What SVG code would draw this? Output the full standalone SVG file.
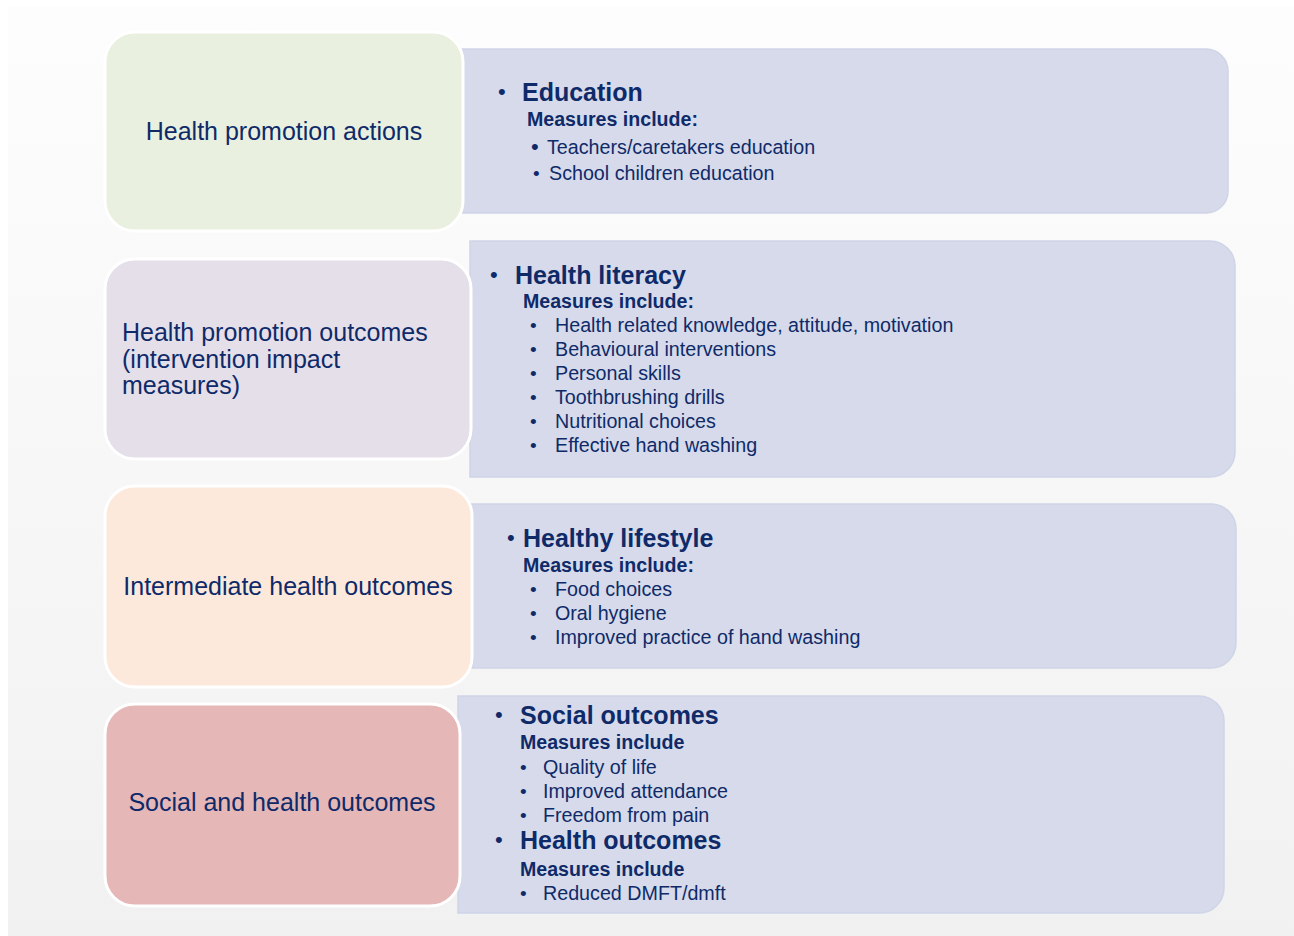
<svg xmlns="http://www.w3.org/2000/svg" width="1294" height="936" viewBox="0 0 1294 936">
<defs>
<linearGradient id="bg" x1="0" y1="0" x2="0" y2="1">
<stop offset="0" stop-color="#fdfdfd"/>
<stop offset="1" stop-color="#f1f1f1"/>
</linearGradient>
</defs>
<style>
text{font-family:"Liberation Sans",Arial,sans-serif;fill:#0f2a69}
.lbl{font-size:25px}
.mid{text-anchor:middle}
.hd{font-size:25px;font-weight:bold}
.mi{font-size:19.6px;font-weight:bold}
.it{font-size:19.7px}
.bu{font-size:19px}
.hb{font-size:22px}
.left{stroke:#ffffff;stroke-width:3}
.panel{fill:#d6daea;stroke:#cfd4e7;stroke-width:1.5}
</style>
<rect x="0" y="0" width="1294" height="936" fill="#ffffff"/>
<rect x="8" y="7" width="1286" height="929" fill="url(#bg)"/>
<g id="connectors"/>

<g id="panel1">
<path class="panel" d="M462,49 H1206 A22,22 0 0 1 1228,71 V191 A22,22 0 0 1 1206,213 H462 Z"/>
<text class="hb" x="498" y="99">•</text>
<text class="hd" x="522" y="101">Education</text>
<text class="mi" x="527" y="126">Measures include:</text>
<text class="hb" x="531" y="154">•</text>
<text class="it" x="547" y="154">Teachers/caretakers education</text>
<text class="bu" x="533" y="180">•</text>
<text class="it" x="549" y="180">School children education</text>
</g>

<g id="panel2">
<path class="panel" d="M470,241 H1210 A25,25 0 0 1 1235,266 V452 A25,25 0 0 1 1210,477 H470 Z"/>
<text class="hb" x="490" y="282">•</text>
<text class="hd" x="515" y="284">Health literacy</text>
<text class="mi" x="523" y="308">Measures include:</text>
<text class="bu" x="530" y="332">•</text><text class="it" x="555" y="332">Health related knowledge, attitude, motivation</text>
<text class="bu" x="530" y="356">•</text><text class="it" x="555" y="356">Behavioural interventions</text>
<text class="bu" x="530" y="380">•</text><text class="it" x="555" y="380">Personal skills</text>
<text class="bu" x="530" y="404">•</text><text class="it" x="555" y="404">Toothbrushing drills</text>
<text class="bu" x="530" y="428">•</text><text class="it" x="555" y="428">Nutritional choices</text>
<text class="bu" x="530" y="452">•</text><text class="it" x="555" y="452">Effective hand washing</text>
</g>

<g id="panel3">
<path class="panel" d="M470,504 H1211 A25,25 0 0 1 1236,529 V643 A25,25 0 0 1 1211,668 H470 Z"/>
<text class="hb" x="507" y="545">•</text>
<text class="hd" x="523" y="547">Healthy lifestyle</text>
<text class="mi" x="523" y="572">Measures include:</text>
<text class="bu" x="530" y="596">•</text><text class="it" x="555" y="596">Food choices</text>
<text class="bu" x="530" y="620">•</text><text class="it" x="555" y="620">Oral hygiene</text>
<text class="bu" x="530" y="644">•</text><text class="it" x="555" y="644">Improved practice of hand washing</text>
</g>

<g id="panel4">
<path class="panel" d="M458,696 H1199 A25,25 0 0 1 1224,721 V888 A25,25 0 0 1 1199,913 H458 Z"/>
<text class="hb" x="495" y="722">•</text>
<text class="hd" x="520" y="724">Social outcomes</text>
<text class="mi" x="520" y="749">Measures include</text>
<text class="bu" x="520" y="774">•</text><text class="it" x="543" y="774">Quality of life</text>
<text class="bu" x="520" y="798">•</text><text class="it" x="543" y="798">Improved attendance</text>
<text class="bu" x="520" y="822">•</text><text class="it" x="543" y="822">Freedom from pain</text>
<text class="hb" x="495" y="847">•</text>
<text class="hd" x="520" y="849">Health outcomes</text>
<text class="mi" x="520" y="876">Measures include</text>
<text class="bu" x="520" y="900">•</text><text class="it" x="543" y="900">Reduced DMFT/dmft</text>
</g>

<g id="stage1">
<rect class="left" x="105" y="32" width="358" height="199" rx="30" fill="#e9f0df"/>
<text class="lbl mid" x="284" y="140">Health promotion actions</text>
</g>

<g id="stage2">
<rect class="left" x="105" y="259" width="366" height="200" rx="30" fill="#e5dfea"/>
<text class="lbl" x="122" y="341">Health promotion outcomes</text>
<text class="lbl" x="122" y="367.5">(intervention impact</text>
<text class="lbl" x="122" y="394">measures)</text>
</g>

<g id="stage3">
<rect class="left" x="105" y="486" width="367" height="201" rx="30" fill="#fce9dc"/>
<text class="lbl mid" x="288" y="595">Intermediate health outcomes</text>
</g>

<g id="stage4">
<rect class="left" x="105" y="704" width="355" height="202" rx="30" fill="#e6b7b7"/>
<text class="lbl mid" x="282" y="811">Social and health outcomes</text>
</g>
</svg>
